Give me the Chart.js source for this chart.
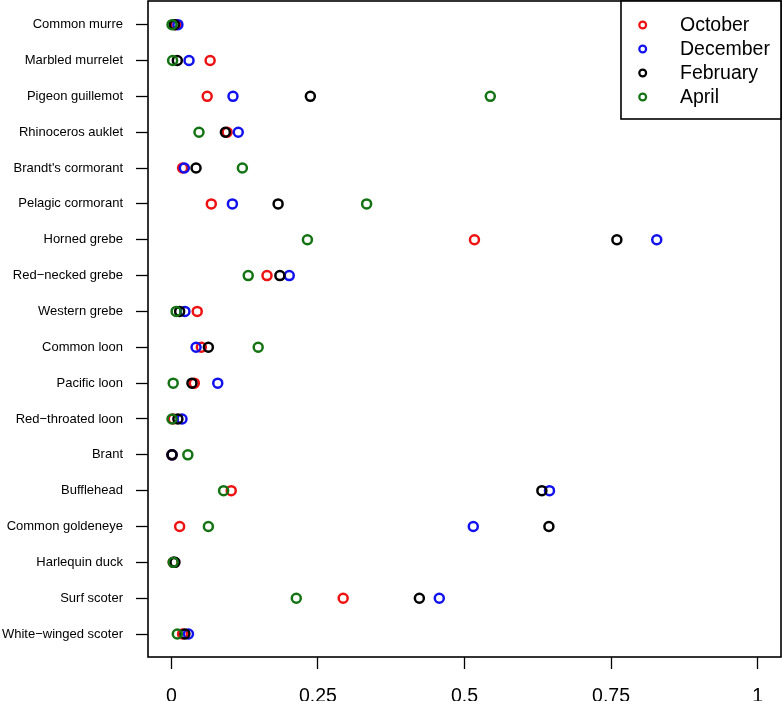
<!DOCTYPE html>
<html>
<head>
<meta charset="utf-8">
<script src="https://cdn.jsdelivr.net/npm/chart.js@4/dist/chart.umd.min.js"></script>
<style>
	body { margin: 0; background: #fff; }
	canvas { display: block; }
</style>
</head>
<body>
<canvas id="dots" width="782" height="701"></canvas>
<script>
// species, top to bottom as in the dot chart
var species = [
	"Common murre", "Marbled murrelet", "Pigeon guillemot", "Rhinoceros auklet",
	"Brandt's cormorant", "Pelagic cormorant", "Horned grebe", "Red\u2212necked grebe",
	"Western grebe", "Common loon", "Pacific loon", "Red\u2212throated loon",
	"Brant", "Bufflehead", "Common goldeneye", "Harlequin duck",
	"Surf scoter", "White\u2212winged scoter"
];

// values per month
var october  = [0.007, 0.066, 0.061, 0.095, 0.019, 0.068, 0.517, 0.163, 0.044, 0.051, 0.039, 0.003, 0.001, 0.102, 0.014, 0.003, 0.293, 0.019];
var december = [0.011, 0.030, 0.105, 0.114, 0.022, 0.104, 0.828, 0.201, 0.023, 0.042, 0.079, 0.018, 0.001, 0.645, 0.515, 0.004, 0.457, 0.029];
var february = [0.005, 0.010, 0.237, 0.092, 0.042, 0.182, 0.760, 0.185, 0.014, 0.063, 0.035, 0.011, 0.001, 0.632, 0.644, 0.006, 0.423, 0.023];
var april    = [0.001, 0.002, 0.544, 0.047, 0.121, 0.333, 0.232, 0.131, 0.008, 0.148, 0.003, 0.001, 0.028, 0.089, 0.063, 0.003, 0.213, 0.010];

var xTicks = [0, 0.25, 0.5, 0.75, 1];
var xTickLabels = ["0", "0.25", "0.5", "0.75", "1"];

var months = ["October", "December", "February", "April"];
var colors = ["#ee1111", "#1111ee", "#000000", "#137313"];

var n = species.length;
var allSeries = [october, december, february, april];

// turn a series into scatter points, first species at the top
function toPoints(arr) {
	return arr.map((v, i) => ({ x: v, y: n - i }));
}

var datasets = allSeries.map((arr, k) => ({
	label: months[k],
	data: toPoints(arr),
	borderColor: colors[k],
	backgroundColor: 'rgba(0,0,0,0)',
	pointRadius: 4.5,
	pointBorderWidth: 2.5,
	pointHoverRadius: 4.5,
	order: 4 - k // april drawn last (on top)
}));

var font = "'Liberation Sans', Arial, sans-serif";

// box round plot area + legend in the corner
var boxPlugin = {
	id: 'box',
	afterDraw(chart) {
		var ctx = chart.ctx, a = chart.chartArea;
		ctx.save();
		ctx.strokeStyle = '#000';
		ctx.lineWidth = 1.6;
		ctx.strokeRect(a.left, a.top, a.right - a.left, a.bottom - a.top);

		// legend
		var lx = 621, ly = a.top, lw = a.right - 621, lh = 119 - a.top;
		ctx.fillStyle = '#fff';
		ctx.fillRect(lx, ly, lw, lh);
		ctx.strokeRect(lx, ly, lw, lh);
		ctx.font = "19.5px " + font;
		ctx.textBaseline = 'middle';
		ctx.textAlign = 'left';
		months.forEach((m, k) => {
			var y = 25 + k * 24;
			ctx.beginPath();
			ctx.arc(642.7, y, 3.4, 0, Math.PI * 2);
			ctx.strokeStyle = colors[k];
			ctx.lineWidth = 2.2;
			ctx.stroke();
			ctx.fillStyle = '#000';
			ctx.fillText(m, 680, y + 1);
		});
		ctx.restore();
	}
};

new Chart(document.getElementById("dots"), {
	type: 'scatter',
	data: { datasets: datasets },
	options: {
		responsive: false,
		animation: false,
		events: [],
		layout: { autoPadding: false, padding: { top: 1, right: 1, left: 0, bottom: 0 } },
		plugins: {
			legend: { display: false },
			tooltip: { enabled: false }
		},
		scales: {
			x: {
				type: 'linear',
				min: -0.04,
				max: 1.04,
				afterBuildTicks: s => { s.ticks = xTicks.map(v => ({ value: v })); },
				afterFit: s => { s.height = 44; s.paddingLeft = 0; s.paddingRight = 0; },
				grid: { drawOnChartArea: false, drawTicks: true, tickLength: 12, tickWidth: 1.3, tickColor: '#000' },
				border: { display: false },
				ticks: {
					color: '#000',
					font: { family: font, size: 19.5 },
					padding: 16,
					maxRotation: 0,
					autoSkip: false,
					callback: (v, i) => xTickLabels[i]
				}
			},
			y: {
				type: 'linear',
				min: 0.36,
				max: 18.66,
				afterBuildTicks: s => { s.ticks = species.map((_, i) => ({ value: n - i })); },
				afterFit: s => { s.width = 148; s.paddingTop = 0; s.paddingBottom = 0; },
				grid: { drawOnChartArea: false, drawTicks: true, tickLength: 12, tickWidth: 1.3, tickColor: '#000' },
				border: { display: false },
				ticks: {
					color: '#000',
					font: { family: font, size: 13 },
					padding: 13,
					autoSkip: false,
					callback: v => species[n - v]
				}
			}
		}
	},
	plugins: [boxPlugin]
});
</script>
</body>
</html>
